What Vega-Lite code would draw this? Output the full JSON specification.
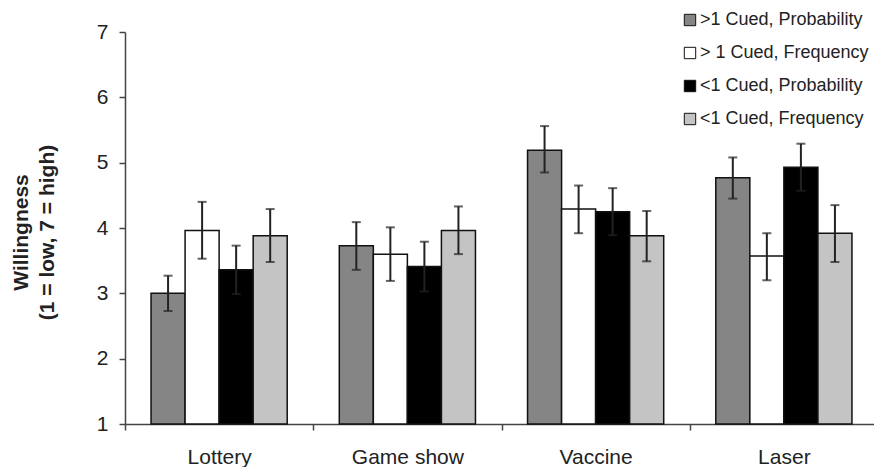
{
  "$schema": "https://vega.github.io/schema/vega-lite/v6.json",
  "autosize": {"type": "none"},
  "width": 753,
  "height": 392,
  "padding": {"left": 125, "top": 32, "right": 0, "bottom": 43},
  "background": "white",
  "config": {
    "font": "Liberation Sans",
    "view": {"stroke": null},
    "axis": {"labelColor": "#222", "titleColor": "#222", "domainColor": "#444", "tickColor": "#444", "domainWidth": 1.5, "tickWidth": 1.5, "grid": false}
  },
  "data": {
    "values": [
      {"task": "Lottery", "cond": ">1 Cued, Probability", "mean": 3.00, "lo": 2.73, "hi": 3.27},
      {"task": "Lottery", "cond": "> 1 Cued, Frequency", "mean": 3.96, "lo": 3.53, "hi": 4.40},
      {"task": "Lottery", "cond": "<1 Cued, Probability", "mean": 3.36, "lo": 2.99, "hi": 3.73},
      {"task": "Lottery", "cond": "<1 Cued, Frequency", "mean": 3.88, "lo": 3.48, "hi": 4.29},
      {"task": "Game show", "cond": ">1 Cued, Probability", "mean": 3.73, "lo": 3.36, "hi": 4.09},
      {"task": "Game show", "cond": "> 1 Cued, Frequency", "mean": 3.60, "lo": 3.19, "hi": 4.01},
      {"task": "Game show", "cond": "<1 Cued, Probability", "mean": 3.41, "lo": 3.03, "hi": 3.79},
      {"task": "Game show", "cond": "<1 Cued, Frequency", "mean": 3.96, "lo": 3.60, "hi": 4.33},
      {"task": "Vaccine", "cond": ">1 Cued, Probability", "mean": 5.19, "lo": 4.85, "hi": 5.56},
      {"task": "Vaccine", "cond": "> 1 Cued, Frequency", "mean": 4.29, "lo": 3.92, "hi": 4.65},
      {"task": "Vaccine", "cond": "<1 Cued, Probability", "mean": 4.25, "lo": 3.89, "hi": 4.61},
      {"task": "Vaccine", "cond": "<1 Cued, Frequency", "mean": 3.88, "lo": 3.49, "hi": 4.26},
      {"task": "Laser", "cond": ">1 Cued, Probability", "mean": 4.77, "lo": 4.45, "hi": 5.08},
      {"task": "Laser", "cond": "> 1 Cued, Frequency", "mean": 3.57, "lo": 3.20, "hi": 3.92},
      {"task": "Laser", "cond": "<1 Cued, Probability", "mean": 4.93, "lo": 4.57, "hi": 5.29},
      {"task": "Laser", "cond": "<1 Cued, Frequency", "mean": 3.92, "lo": 3.48, "hi": 4.35}
    ]
  },
  "encoding": {
    "x": {
      "field": "task", "type": "nominal",
      "sort": ["Lottery", "Game show", "Vaccine", "Laser"],
      "scale": {"paddingInner": 0, "paddingOuter": 0},
      "axis": {"title": null, "labelAngle": 0, "labelFontSize": 21, "labelPadding": 16, "tickSize": 6, "tickBand": "extent"}
    },
    "xOffset": {
      "field": "cond", "type": "nominal",
      "sort": [">1 Cued, Probability", "> 1 Cued, Frequency", "<1 Cued, Probability", "<1 Cued, Frequency"],
      "scale": {"paddingInner": 0, "paddingOuter": 0.765}
    }
  },
  "layer": [
    {
      "mark": {"type": "bar", "stroke": "#111", "strokeWidth": 1.5},
      "encoding": {
        "y": {
          "field": "mean", "type": "quantitative",
          "scale": {"domain": [1, 7], "zero": false, "nice": false},
          "axis": {
            "title": ["Willingness", "(1 = low, 7 = high)"],
            "titleFontSize": 21, "titleFontWeight": "bold", "titleLineHeight": 26,
            "titleX": -104, "titleY": 200, "titleBaseline": "middle", "titleAngle": -90,
            "values": [1, 2, 3, 4, 5, 6, 7], "format": "d",
            "labelFontSize": 21, "tickSize": 6, "labelPadding": 11
          }
        },
        "y2": {"datum": 1},
        "color": {
          "field": "cond", "type": "nominal",
          "sort": [">1 Cued, Probability", "> 1 Cued, Frequency", "<1 Cued, Probability", "<1 Cued, Frequency"],
          "scale": {
            "domain": [">1 Cued, Probability", "> 1 Cued, Frequency", "<1 Cued, Probability", "<1 Cued, Frequency"],
            "range": ["#858585", "#ffffff", "#000000", "#c4c4c4"]
          },
          "legend": {
            "title": null, "orient": "none", "legendX": 556, "legendY": -21,
            "symbolType": "square", "symbolSize": 130, "symbolStrokeColor": "#111", "symbolStrokeWidth": 1,
            "symbolOpacity": 1, "labelFontSize": 18, "labelColor": "#222", "labelOffset": 1,
            "rowPadding": 15, "padding": 0, "labelLimit": 300
          }
        }
      }
    },
    {
      "mark": {"type": "rule", "stroke": "#222", "strokeWidth": 2},
      "encoding": {
        "y": {"field": "lo", "type": "quantitative"},
        "y2": {"field": "hi"}
      }
    },
    {
      "mark": {"type": "tick", "color": "#222", "size": 9, "thickness": 2},
      "encoding": {"y": {"field": "lo", "type": "quantitative"}}
    },
    {
      "mark": {"type": "tick", "color": "#222", "size": 9, "thickness": 2},
      "encoding": {"y": {"field": "hi", "type": "quantitative"}}
    }
  ]
}
